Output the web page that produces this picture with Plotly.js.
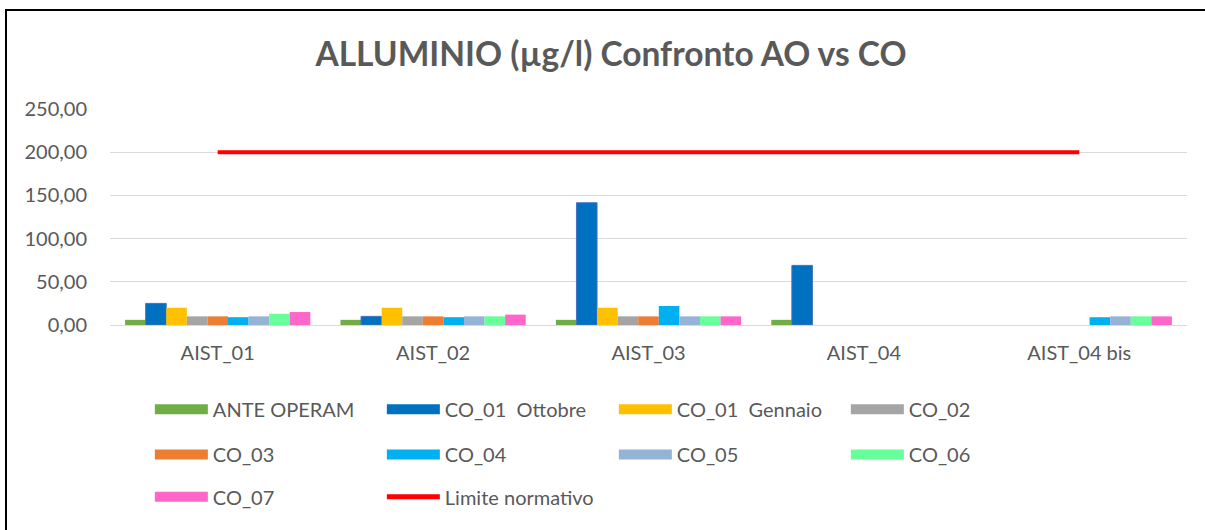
<!DOCTYPE html>
<html>
<head>
<meta charset="utf-8">
<script src="https://cdn.plot.ly/plotly-3.0.1.min.js"></script>
<style>
  html, body { margin: 0; padding: 0; background: #fff; overflow: hidden; }
  #frame { position: absolute; left: 5px; top: 9px; width: 1400px; height: 700px; border: 2px solid #000; pointer-events: none; }
  #chart { width: 1205px; height: 530px; }
</style>
</head>
<body>
<div id="chart"></div>
<div id="frame"></div>
<script>
const stations = ["AIST_01", "AIST_02", "AIST_03", "AIST_04", "AIST_04 bis"];

const anteOperam = [6, 6, 6, 6, null];
const co01Ottobre = [25, 10, 141.5, 69, null];
const co01Gennaio = [20, 20, 20, null, null];
const co02 = [10, 10, 10, null, null];
const co03 = [10, 10, 10, null, null];
const co04 = [9, 9, 22, null, 9];
const co05 = [10, 10, 10, null, 10];
const co06 = [13, 10, 10, null, 10];
const co07 = [15, 12, 10, null, 10];
const limite = [200, 200, 200, 200, 200];

const seriesNames = ["ANTE OPERAM", "CO_01  Ottobre", "CO_01  Gennaio", "CO_02",
                     "CO_03", "CO_04", "CO_05", "CO_06", "CO_07"];
const seriesValues = [anteOperam, co01Ottobre, co01Gennaio, co02, co03, co04, co05, co06, co07];
const colors = ["#70AD47", "#0070C0", "#FFC000", "#A5A5A5", "#ED7D31",
                "#00B0F0", "#95B3D7", "#66FF99", "#FF66CC"];
const legendOf = ["legend", "legend", "legend", "legend",
                  "legend2", "legend2", "legend2", "legend2", "legend3"];

const txt = "#595959";
const font = "Lato, 'Open Sans', sans-serif";

let traces = [];
seriesNames.forEach((name, i) => {
	traces.push({
		type: "bar",
		x: stations,
		y: seriesValues[i],
		name: name,
		legendgroup: name,
		showlegend: false,
		marker: {
			color: colors[i],
			line: { color: i === 1 ? "#4472C4" : colors[i], width: i === 1 ? 1 : 0 }
		},
		hoverinfo: "x+y+name"
	});
});

traces.push({
	type: "scatter",
	mode: "lines",
	x: stations,
	y: limite,
	name: "Limite normativo",
	legendgroup: "Limite normativo",
	showlegend: false,
	line: { color: "#FF0000", width: 4 }
});

// legend swatches (wide rectangles, like the spreadsheet legend)
seriesNames.forEach((name, i) => {
	traces.push({
		type: "scatter",
		mode: "lines",
		x: [null],
		y: [null],
		name: name,
		legendgroup: name,
		legend: legendOf[i],
		line: { color: colors[i], width: 13 }
	});
});
traces.push({
	type: "scatter",
	mode: "lines",
	x: [null],
	y: [null],
	name: "Limite normativo",
	legendgroup: "Limite normativo",
	legend: "legend3",
	line: { color: "#FF0000", width: 5 }
});

const legendBase = {
	orientation: "h",
	xanchor: "left",
	yanchor: "middle",
	x: 0.037,
	entrywidth: 164,
	entrywidthmode: "pixels",
	itemwidth: 53,
	font: { family: font, size: 20, color: txt },
	bgcolor: "rgba(0,0,0,0)"
};

let layout = {
	title: {
		text: "<b>ALLUMINIO (µg/l) Confronto AO vs CO</b>",
		font: { family: font, size: 33.5, color: txt },
		x: 0.507,
		xref: "container",
		y: 0.92,
		yref: "container"
	},
	font: { family: font, color: txt },
	separators: ",.",
	barmode: "group",
	bargap: 0.14,
	bargroupgap: 0,
	xaxis: {
		type: "category",
		tickfont: { family: font, size: 20, color: txt },
		showline: true,
		linecolor: "#D9D9D9",
		linewidth: 1,
		ticks: "",
		ticklabelstandoff: 10
	},
	yaxis: {
		range: [0, 250],
		dtick: 50,
		tickformat: ".2f",
		tickfont: { family: font, size: 20, color: txt },
		gridcolor: "#D9D9D9",
		gridwidth: 1.3,
		zeroline: false,
		ticklabelstandoff: 22
	},
	legend: Object.assign({}, legendBase, { y: -0.39 }),
	legend2: Object.assign({}, legendBase, { y: -0.60 }),
	legend3: Object.assign({}, legendBase, { y: -0.795 }),
	showlegend: true,
	margin: { l: 110, r: 18, t: 109, b: 205 },
	paper_bgcolor: "#FFFFFF",
	plot_bgcolor: "#FFFFFF",
	width: 1205,
	height: 530
};

Plotly.newPlot("chart", traces, layout, { displayModeBar: false, staticPlot: true });
</script>
</body>
</html>
